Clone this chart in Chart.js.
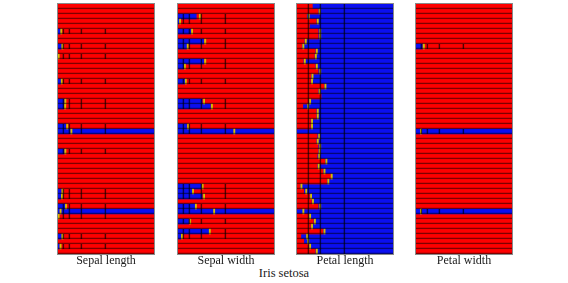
<!DOCTYPE html>
<html><head><meta charset="utf-8">
<script src="https://cdn.jsdelivr.net/npm/chart.js@4"></script>
<style>
body{margin:0;width:568px;height:283px;background:#fff;overflow:hidden;position:relative;font-family:"Liberation Serif",serif;}
.panel{position:absolute;top:3px;width:96px;height:250px;border:1px solid #8a8a8a;}
.panel canvas{display:block}
.lbl{position:absolute;top:254px;width:120px;text-align:center;font-size:12px;line-height:12px;color:#1a1a1a;white-space:nowrap}
#title{position:absolute;top:266.5px;left:0;width:568px;text-align:center;font-size:12.5px;line-height:12px;color:#1a1a1a}
</style>
</head><body>
<div id="root"></div>
<div id="title">Iris setosa</div>
<script>
const N = null;
const panelTitles = ["Sepal length","Sepal width","Petal length","Petal width"];
const rowLabels = Array.from({length:50},(_,i)=>String(i+1));

// Sepal length: extent of blue (from left) and yellow marker per sample
const sepalLengthBlue = [N,N,N,N,N,0.025,N,N,0.035,N, 0,N,N,N,N,0.03,N,N,N,0.065, 0.06,N,N,N,0.08,1,N,N,N,0.065, N,N,N,N,N,N,N,0.035,0.03,N, 0.07,1,0,N,N,N,0.035,N,0.015,N];
const sepalLengthMark = [N,N,N,N,N,0.028,N,N,0.04,N, 0,N,N,N,N,0.033,N,N,N,0.07, 0.068,N,N,N,0.09,0.133,N,N,N,0.07, N,N,N,N,N,N,N,0.04,0.035,N, 0.077,0.02,0,N,N,N,0.04,N,0.02,N];

// Sepal width
const sepalWidthBlue = [N,N,0.19,0.01,N,0.135,N,0.267,0.09,N, N,0.267,0.06,N,N,0.07,N,N,N,0.25, 0.337,N,N,N,0.09,1,N,N,N,N, N,N,N,N,N,N,0.24,0.145,0.25,N, 0.175,1,N,0.11,N,0.32,0.03,N,N,N];
const sepalWidthMark = [N,N,0.221,0.015,N,0.14,N,0.277,0.095,N, N,0.277,0.065,N,N,0.075,N,N,N,0.265, 0.347,N,N,N,0.1,0.58,N,N,N,N, N,N,N,N,N,N,0.25,0.15,0.265,N, 0.18,0.37,N,0.12,N,0.325,0.035,N,N,N];

// Petal length: extent of red (from left), rest blue
const petalLengthRed = [0.16,0.22,0.10,0.2,0.13,0.22,0.22,0.075,0.05,0.19, 0.18,0.065,0.19,0.22,0.145,0.14,0.28,0.22,0.25,0.12, 0.06,0.2,0.2,0.14,0.14,N,0.21,0.2,0.22,0.22, 0.21,0.29,0.21,0.27,0.35,0.31,0.03,0.07,0.13,0.15, 0.22,N,0.12,0.17,0.14,0.27,0.04,0.07,0.12,0.19];
const petalLengthMark = [N,0.23,0.115,0.21,N,0.235,0.235,0.085,0.06,0.2, 0.19,0.075,0.2,0.235,0.155,0.15,0.29,0.23,N,0.13, 0.11,0.21,0.21,0.15,0.15,N,0.225,0.21,0.235,0.23, 0.225,0.3,0.22,0.28,0.355,0.32,0.04,0.09,0.14,0.16, 0.235,0.06,0.13,0.18,0.15,0.28,0.1,0.11,0.13,0.2];

// Petal width
const petalWidthBlue = [N,N,N,N,N,N,N,N,0.065,N, N,N,N,N,N,N,N,N,N,N, N,N,N,N,N,1,N,N,N,N, N,N,N,N,N,N,N,N,N,N, N,1,N,N,N,N,N,N,N,N];
const petalWidthMark = [N,N,N,N,N,N,N,N,0.075,N, N,N,N,N,N,N,N,N,N,N, N,N,N,N,N,0.045,N,N,N,N, N,N,N,N,N,N,N,N,N,N, N,0.045,N,N,N,N,N,N,N,N];

const boundariesSepal = [1/16,1/8,1/4,1/2];
const boundariesPetalLength = [1/8,1/4,1/2];

const RED = '#fe0000', BLUE = '#0b0ff0', YEL = '#d9bf00';
const SEP = 'rgba(0,0,0,0.5)', LINE = 'rgba(0,0,0,0.65)';
const markW = 0.013;

const panels = [
  {left:57, base:RED, lead:BLUE, leadEnd:sepalLengthBlue, mark:sepalLengthMark, bounds:boundariesSepal, allSplit:false},
  {left:177, base:RED, lead:BLUE, leadEnd:sepalWidthBlue, mark:sepalWidthMark, bounds:boundariesSepal, allSplit:false},
  {left:296, base:BLUE, lead:RED, leadEnd:petalLengthRed, mark:petalLengthMark, bounds:boundariesPetalLength, allSplit:true},
  {left:415, base:RED, lead:BLUE, leadEnd:petalWidthBlue, mark:petalWidthMark, bounds:boundariesSepal, allSplit:false}
];

const root = document.getElementById('root');
panels.forEach((p, k) => {
  const div = document.createElement('div');
  div.className = 'panel';
  div.style.left = p.left + 'px';
  const cv = document.createElement('canvas');
  cv.width = 96; cv.height = 250;
  div.appendChild(cv);
  root.appendChild(div);
  const lbl = document.createElement('div');
  lbl.className = 'lbl';
  lbl.style.left = (p.left + 49 - 60) + 'px';
  lbl.textContent = panelTitles[k];
  document.body.appendChild(lbl);

  const split = rowLabels.map((_, i) => p.allSplit || p.leadEnd[i] !== null || p.mark[i] !== null);
  const datasets = [];
  datasets.push({data: rowLabels.map(() => [0, 1]), backgroundColor: p.base, borderWidth: 0, order: 10});
  datasets.push({data: p.leadEnd.map(v => (v !== null && v > 0) ? [0, v] : null), backgroundColor: p.lead, borderWidth: 0, order: 9});
  datasets.push({data: p.mark.map(v => v !== null ? [v, v + markW] : null), backgroundColor: YEL, borderWidth: 0, order: 8});
  p.bounds.forEach((b, j) => {
    datasets.push({data: split.map(s => s ? [0, b] : null), backgroundColor: 'rgba(0,0,0,0)', borderColor: LINE,
      borderWidth: {top:0, right:1, bottom:0, left:0}, borderSkipped: false, order: 7 - j * 0.01});
  });
  datasets.push({data: rowLabels.map(() => [0, 1]), backgroundColor: 'rgba(0,0,0,0)', borderColor: SEP,
    borderWidth: {top:0, right:0, bottom:1, left:0}, borderSkipped: false, order: 1});
  datasets.forEach(d => { d.grouped = false; d.barPercentage = 1; d.categoryPercentage = 1; });

  new Chart(cv, {
    type: 'bar',
    data: {labels: rowLabels, datasets},
    options: {
      indexAxis: 'y', responsive: false, animation: false, devicePixelRatio: 1,
      layout: {padding: 0},
      plugins: {legend: {display: false}, tooltip: {enabled: false}, title: {display: false}},
      scales: {
        x: {type: 'linear', min: 0, max: 1, display: false},
        y: {display: false}
      }
    }
  });
});
</script>
</body></html>
